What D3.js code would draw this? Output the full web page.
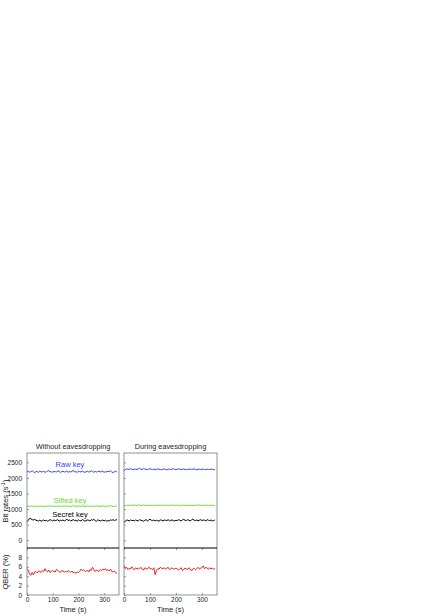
<!DOCTYPE html>
<html>
<head>
<meta charset="utf-8">
<script src="https://cdn.jsdelivr.net/npm/d3@7"></script>
<style>
  body { margin: 0; background: #fff; }
  svg text { font-family: "Liberation Sans", Arial, sans-serif; }
</style>
</head>
<body>
<div id="chart"></div>
<script>
// sample times (s)
const times = [0,5,10,15,20,25,30,35,40,45,50,55,60,65,70,75,80,85,90,95,
  100,105,110,115,120,125,130,135,140,145,150,155,160,165,170,175,180,185,190,195,
  200,205,210,215,220,225,230,235,240,245,250,255,260,265,270,275,280,285,290,295,
  300,305,310,315,320,325,330,335,340,345,350];

// Without eavesdropping
const leftRaw = [2190,2215,2185,2200,2230,2195,2170,2205,2200,2180,
  2220,2190,2200,2215,2180,2195,2220,2235,2190,2200,
  2180,2210,2200,2185,2230,2205,2180,2200,2215,2190,
  2200,2220,2180,2205,2190,2210,2245,2190,2200,2180,
  2210,2200,2190,2220,2200,2175,2200,2215,2190,2200,
  2230,2205,2180,2210,2190,2200,2220,2190,2205,2210,
  2180,2200,2190,2215,2200,2230,2190,2170,2200,2215,2190];
const leftSifted = [1080,1095,1085,1090,1100,1085,1080,1095,1090,1085,
  1100,1090,1085,1095,1080,1090,1100,1105,1090,1095,
  1085,1095,1090,1080,1100,1095,1085,1090,1100,1090,
  1095,1105,1085,1090,1080,1095,1110,1090,1095,1085,
  1090,1100,1085,1095,1090,1080,1095,1100,1090,1085,
  1100,1095,1085,1090,1095,1105,1090,1085,1095,1100,
  1090,1085,1095,1100,1090,1110,1095,1080,1090,1095,1100];
const leftSecret = [590,640,700,690,660,650,670,640,630,620,
  645,610,630,650,620,640,610,630,660,640,
  620,650,630,640,660,610,640,630,650,620,
  640,680,630,650,620,640,660,630,640,610,
  650,630,620,660,640,610,630,650,640,620,
  660,640,670,630,610,650,640,620,630,650,
  620,640,610,630,620,650,640,660,630,650,660];
const leftQber = [5.5,5.3,4.4,4.2,4.8,4.3,4.9,5.0,4.7,5.1,
  5.0,4.8,5.2,5.0,5.6,5.1,4.9,5.3,4.8,5.0,
  5.2,5.0,4.9,5.5,5.2,5.0,4.8,5.2,5.1,4.9,
  5.0,4.9,5.2,5.0,4.8,5.1,4.7,4.9,4.6,4.9,
  4.8,5.0,5.5,5.2,5.4,5.1,5.0,5.3,4.9,5.4,
  5.2,5.9,5.4,5.0,5.3,5.2,5.0,5.4,5.2,5.5,
  5.3,5.6,5.2,5.4,5.1,5.5,5.0,4.9,5.1,4.7,4.6];

// During eavesdropping
const rightRaw = [2220,2270,2290,2280,2270,2300,2280,2265,2285,2275,
  2270,2290,2310,2280,2270,2300,2285,2275,2265,2280,
  2300,2275,2270,2285,2260,2275,2290,2280,2270,2265,
  2280,2290,2270,2260,2275,2285,2270,2280,2295,2270,
  2265,2275,2290,2280,2270,2275,2285,2270,2265,2280,
  2270,2285,2275,2280,2290,2270,2265,2275,2280,2270,
  2275,2285,2270,2265,2280,2275,2270,2285,2275,2270,2260];
const rightSifted = [1100,1115,1120,1125,1110,1130,1120,1115,1135,1120,
  1110,1125,1140,1115,1120,1130,1110,1125,1120,1115,
  1130,1120,1110,1125,1115,1120,1130,1115,1120,1110,
  1125,1120,1135,1115,1120,1110,1125,1130,1120,1115,
  1120,1130,1115,1125,1110,1120,1125,1115,1130,1120,
  1115,1125,1120,1110,1130,1120,1115,1125,1135,1120,
  1110,1120,1125,1115,1130,1120,1110,1125,1120,1115,1120];
const rightSecret = [580,600,650,640,620,650,630,640,620,650,
  630,620,660,640,630,610,640,660,620,640,
  680,640,630,650,620,640,630,610,650,640,
  620,650,640,630,660,620,640,650,630,620,
  640,630,660,640,620,650,670,640,630,660,
  640,620,650,680,640,630,650,620,640,660,
  630,650,640,620,660,640,630,650,620,630,650];
const rightQber = [6.2,5.6,5.9,5.4,5.7,5.5,6.0,5.6,5.4,5.8,
  5.5,5.7,5.6,5.9,5.5,5.3,5.8,5.6,5.5,5.9,
  5.7,5.6,5.4,5.8,4.3,5.2,5.6,5.5,5.9,5.7,
  5.6,5.8,5.5,5.7,5.9,5.4,5.6,5.8,5.5,5.6,
  5.7,5.5,5.3,5.6,5.8,5.2,5.5,5.7,5.6,5.4,
  5.8,5.6,5.1,5.5,5.7,5.4,5.6,5.9,5.5,5.7,
  5.8,6.2,5.6,5.9,5.7,5.5,5.8,5.6,5.7,5.5,5.6];

const panelTitles = ['Without eavesdropping', 'During eavesdropping'];
const rateTicks = [0, 500, 1000, 1500, 2000, 2500];
const qberTicks = [0, 2, 4, 6, 8];
const timeTicks = [0, 100, 200, 300];
const seriesLabels = ['Raw key', 'Sifted key', 'Secret key'];
const seriesColors = ['#3040ff', '#66dd33', '#000000'];

const W = 436, H = 616;
const svg = d3.select('#chart').append('svg').attr('width', W).attr('height', H);

const topY = d3.scaleLinear().domain([-250, 2800]).range([548, 453]);
const botY = d3.scaleLinear().domain([0, 10]).range([595, 548]);

const panels = [
  { x0: 27, x1: 119, raw: leftRaw, sifted: leftSifted, secret: leftSecret, qber: leftQber },
  { x0: 124, x1: 217, raw: rightRaw, sifted: rightSifted, secret: rightSecret, qber: rightQber }
];

panels.forEach((p, i) => {
  const x = d3.scaleLinear().domain([0, 358]).range([p.x0, p.x1]);
  const g = svg.append('g');

  // rate lines
  [p.raw, p.sifted, p.secret].forEach((vals, k) => {
    const line = d3.line().x((d, j) => x(times[j])).y(d => topY(d));
    g.append('path').datum(vals)
      .attr('d', line).attr('fill', 'none')
      .attr('stroke', seriesColors[k]).attr('stroke-width', 1);
  });

  // qber line
  g.append('path').datum(p.qber)
    .attr('d', d3.line().x((d, j) => x(times[j])).y(d => botY(d)))
    .attr('fill', 'none').attr('stroke', '#ee2020').attr('stroke-width', 1);

  // y axes (ticks inward)
  const ya = g.append('g').attr('transform', `translate(${p.x0},0)`)
    .call(d3.axisLeft(topY).tickValues(rateTicks).tickSize(-2).tickPadding(5)
      .tickFormat(i === 0 ? d3.format('d') : ''));
  const yb = g.append('g').attr('transform', `translate(${p.x0},0)`)
    .call(d3.axisLeft(botY).tickValues(qberTicks).tickSize(-2).tickPadding(5)
      .tickFormat(i === 0 ? d3.format('d') : ''));
  // x axes
  const xa = g.append('g').attr('transform', 'translate(0,595)')
    .call(d3.axisBottom(x).tickValues(timeTicks).tickSize(-2).tickPadding(2));
  const xt = g.append('g').attr('transform', 'translate(0,548)')
    .call(d3.axisBottom(x).tickValues(timeTicks).tickSize(2).tickFormat(''));

  [ya, yb, xa, xt].forEach(a => {
    a.select('.domain').remove();
    a.selectAll('line').attr('stroke', '#555').attr('stroke-width', 0.6);
    a.selectAll('text').attr('font-size', 6.5).attr('fill', '#222')
      .attr('font-family', '"Liberation Sans", Arial, sans-serif');
  });

  // frame
  g.append('rect').attr('x', p.x0).attr('y', 453)
    .attr('width', p.x1 - p.x0).attr('height', 595 - 453)
    .attr('fill', 'none').attr('stroke', '#777').attr('stroke-width', 0.8);
  g.append('line').attr('x1', p.x0).attr('x2', p.x1).attr('y1', 548).attr('y2', 548)
    .attr('stroke', '#000').attr('stroke-width', 1.1);

  // titles
  g.append('text').attr('x', (p.x0 + p.x1) / 2).attr('y', 449)
    .attr('text-anchor', 'middle').attr('font-size', 7.3).attr('fill', '#222')
    .text(panelTitles[i]);
  g.append('text').attr('x', (p.x0 + p.x1) / 2).attr('y', 612)
    .attr('text-anchor', 'middle').attr('font-size', 7.5).attr('fill', '#222')
    .text('Time (s)');
});

// series labels in left panel
const labelY = [2350, 1200, 740];
seriesLabels.forEach((s, k) => {
  svg.append('text').attr('x', 70).attr('y', topY(labelY[k]))
    .attr('text-anchor', 'middle').attr('font-size', 7.5)
    .attr('fill', seriesColors[k]).text(s);
});

// y labels
const bl = svg.append('text').attr('transform', 'translate(8,501) rotate(-90)')
  .attr('text-anchor', 'middle').attr('font-size', 7.5).attr('fill', '#222');
bl.append('tspan').text('Bit rates (s');
bl.append('tspan').attr('font-size', 5).attr('dy', -3).text('-1');
bl.append('tspan').attr('dy', 3).text(')');

svg.append('text').attr('transform', 'translate(8,572) rotate(-90)')
  .attr('text-anchor', 'middle').attr('font-size', 7.5).attr('fill', '#222')
  .text('QBER (%)');
</script>
</body>
</html>
